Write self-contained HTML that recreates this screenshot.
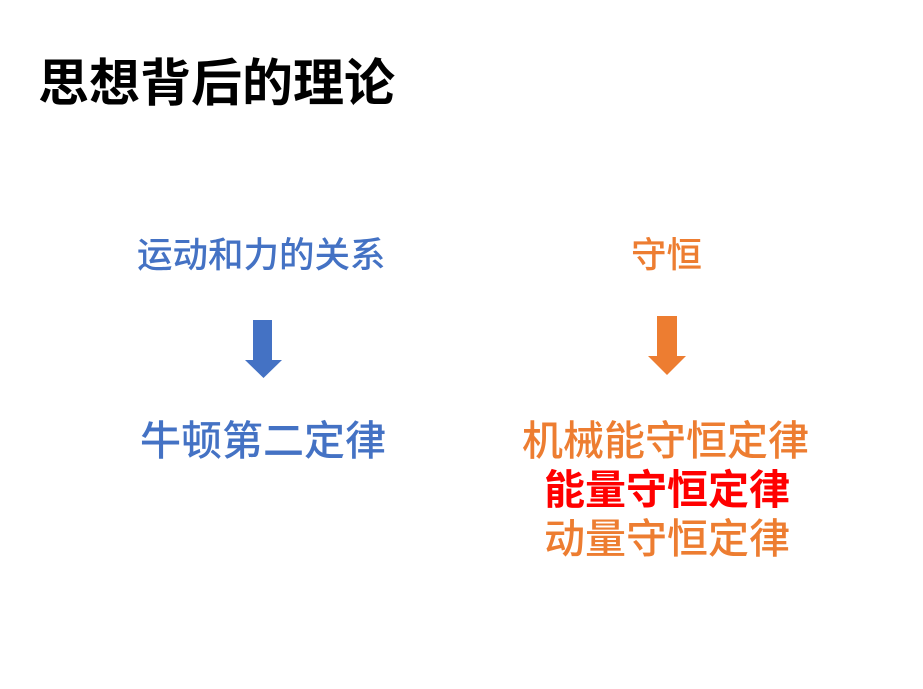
<!DOCTYPE html>
<html><head><meta charset="utf-8"><style>
html,body{margin:0;padding:0;background:#fff;}
body{width:923px;height:689px;position:relative;overflow:hidden;font-family:"Liberation Sans","Noto Sans CJK SC",sans-serif;}
.t{position:absolute;white-space:nowrap;line-height:1;font-weight:500;}
</style></head><body>
<div class="t" style="left:38px;top:58px;font-size:51px;font-weight:bold;color:#000;">思想背后的理论</div>
<div class="t" style="left:137px;top:238px;font-size:35.5px;color:#4472C4;">运动和力的关系</div>
<div class="t" style="left:631px;top:238px;font-size:35.5px;color:#ED7D31;">守恒</div>
<svg style="position:absolute;left:0;top:0" width="923" height="689">
<polygon points="253,320 272,320 272,360 282,360 263.5,378 245,360 253,360" fill="#4472C4"/>
<polygon points="657,316 677,316 677,356 686,356 667,375 648,356 657,356" fill="#ED7D31"/>
</svg>
<div class="t" style="left:140px;top:421px;font-size:41px;color:#4472C4;">牛顿第二定律</div>
<div class="t" style="left:522px;top:421px;font-size:41px;color:#ED7D31;">机械能守恒定律</div>
<div class="t" style="left:544px;top:470px;font-size:41px;font-weight:bold;color:#FF0000;">能量守恒定律</div>
<div class="t" style="left:544px;top:519px;font-size:41px;color:#ED7D31;">动量守恒定律</div>
</body></html>
